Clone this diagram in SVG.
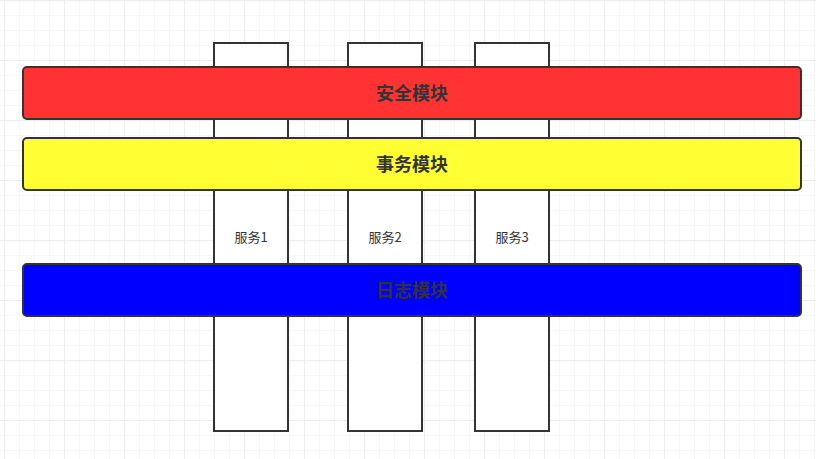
<svg xmlns="http://www.w3.org/2000/svg" width="816" height="459" viewBox="0 0 816 459">
<defs>
<pattern id="minor" x="4" y="0" width="15" height="15" patternUnits="userSpaceOnUse">
<path d="M0 0V15M0 0H15" fill="none" stroke="#efefef" stroke-width="1"/>
</pattern>
<pattern id="major" x="4" y="0" width="60" height="60" patternUnits="userSpaceOnUse">
<path d="M0 0V60M0 0H60" fill="none" stroke="#e4e4e4" stroke-width="1"/>
</pattern>
</defs>
<style>
.svc{fill:#fff;stroke:#333;stroke-width:2}
.bar{stroke:#333;stroke-width:2}
.bt{font-family:"Noto Sans CJK SC","Liberation Sans",sans-serif;font-size:18px;font-weight:bold;fill:#333;text-anchor:middle;dominant-baseline:central}
.st{font-family:"Noto Sans CJK SC","Liberation Sans",sans-serif;font-size:13px;fill:#333;text-anchor:middle;dominant-baseline:central}
</style>
<rect width="816" height="459" fill="#fff"/>
<rect width="816" height="459" fill="url(#minor)"/>
<rect width="816" height="459" fill="url(#major)"/>
<g id="svc1"><rect class="svc" x="214" y="43" width="74" height="388"/><text class="st" x="251" y="236">服务1</text></g>
<g id="svc2"><rect class="svc" x="348" y="43" width="74" height="388"/><text class="st" x="385" y="236">服务2</text></g>
<g id="svc3"><rect class="svc" x="475" y="43" width="74" height="388"/><text class="st" x="512" y="236">服务3</text></g>
<g id="security"><rect class="bar" x="23" y="67" width="778" height="52" rx="4" fill="#ff3333"/><text class="bt" x="412" y="91.5">安全模块</text></g>
<g id="transaction"><rect class="bar" x="23" y="138" width="778" height="52" rx="4" fill="#ffff33"/><text class="bt" x="412" y="162.5">事务模块</text></g>
<g id="log"><rect class="bar" x="23" y="264" width="778" height="52" rx="4" fill="#0000ff"/><text class="bt" x="412" y="288.5">日志模块</text></g>
<g id="connectors"></g>
</svg>
